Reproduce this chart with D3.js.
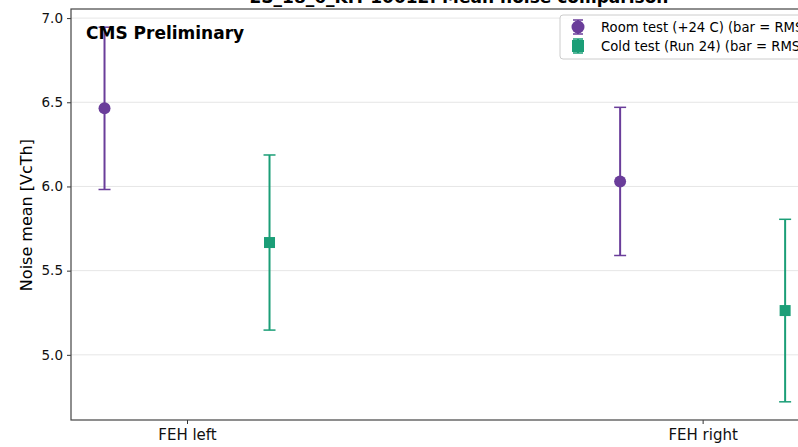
<!DOCTYPE html>
<html>
<head>
<meta charset="utf-8">
<script src="https://cdn.jsdelivr.net/npm/d3@7"></script>
<style>
  body { margin: 0; background: #fff; }
  text { font-family: "DejaVu Sans", sans-serif; }
</style>
</head>
<body>
<svg id="chart" width="798" height="447"></svg>
<script>
var categories = ["FEH left", "FEH right"];
var seriesNames = ["Room test (+24 C) (bar = RMS)", "Cold test (Run 24) (bar = RMS)"];
var roomMean = [6.464, 6.030];
var roomRms = [0.482, 0.440];
var coldMean = [5.667, 5.263];
var coldRms = [0.520, 0.542];
var yTicks = [5.0, 5.5, 6.0, 6.5, 7.0];

var purple = "#6a3d9a";
var green = "#1b9e77";

var svg = d3.select("#chart"),
  margin = {top: 9, left: 71, bottom: 27},
  width = 776,
  height = +svg.attr("height") - margin.top - margin.bottom,
  g = svg.append("g").attr("transform", "translate(" + margin.left + "," + margin.top + ")");

var x = d3.scaleLinear().domain([-0.225, 1.28]).range([0, width]);
var y = d3.scaleLinear().domain([4.613, 7.054]).range([height, 0]);
var offset = 0.16;

// grid
g.append("g")
  .selectAll("line")
  .data(yTicks)
  .enter().append("line")
  .attr("x1", 0).attr("x2", width)
  .attr("y1", function(d) { return y(d); })
  .attr("y2", function(d) { return y(d); })
  .style("stroke", "#e6e6e6")
  .style("stroke-width", 1);

// axes
var yAxis = g.append("g")
  .call(d3.axisLeft(y).tickValues(yTicks).tickFormat(d3.format(".1f")).tickSize(4).tickPadding(4));
var xAxis = g.append("g")
  .attr("transform", "translate(0," + height + ")")
  .call(d3.axisBottom(x).tickValues([0, 1]).tickFormat(function(d) { return categories[d]; }).tickSize(4).tickPadding(5));

[yAxis, xAxis].forEach(function(a) {
  a.select(".domain").remove();
  a.selectAll("line").style("stroke", "#333");
  a.selectAll("text").style("font-size", "13.5px").style("fill", "#111");
});
xAxis.selectAll("text").style("font-size", "15px");

// frame
g.append("rect")
  .attr("width", width).attr("height", height)
  .style("fill", "none")
  .style("stroke", "#444")
  .style("stroke-width", 1.2);

// y label
g.append("text")
  .attr("transform", "rotate(-90)")
  .attr("x", -y(5.83))
  .attr("y", -39)
  .attr("text-anchor", "middle")
  .style("font-size", "16px")
  .text("Noise mean [VcTh]");

// title (partly above the picture)
svg.append("text")
  .attr("x", 459)
  .attr("y", 3)
  .attr("text-anchor", "middle")
  .style("font-size", "17px")
  .style("font-weight", "bold")
  .text("2S_18_6_KIT-10012: Mean noise comparison");

function drawSeries(means, rms, dx, color, shape) {
  var s = g.append("g");
  means.forEach(function(m, i) {
    var cx = x(i + dx);
    s.append("line")
      .attr("x1", cx).attr("x2", cx)
      .attr("y1", y(m + rms[i])).attr("y2", y(m - rms[i]))
      .style("stroke", color).style("stroke-width", 2);
    [m + rms[i], m - rms[i]].forEach(function(v) {
      s.append("line")
        .attr("x1", cx - 6).attr("x2", cx + 6)
        .attr("y1", y(v)).attr("y2", y(v))
        .style("stroke", color).style("stroke-width", 1.5);
    });
    if (shape == "circle") {
      s.append("circle").attr("cx", cx).attr("cy", y(m)).attr("r", 6).style("fill", color);
    } else {
      s.append("rect").attr("x", cx - 5.5).attr("y", y(m) - 5.5)
        .attr("width", 11).attr("height", 11).style("fill", color);
    }
  });
}

drawSeries(roomMean, roomRms, -offset, purple, "circle");
drawSeries(coldMean, coldRms, offset, green, "square");

// CMS label
g.append("text")
  .attr("x", 15)
  .attr("y", 30)
  .style("font-size", "17px")
  .style("font-weight", "bold")
  .text("CMS Preliminary");

// legend
var key = svg.append("g").attr("transform", "translate(560,15)");
key.append("rect")
  .attr("width", 270).attr("height", 44).attr("rx", 3)
  .style("fill", "#fff").style("fill-opacity", 0.85)
  .style("stroke", "#ccc");

var entries = [
  {name: seriesNames[0], color: purple, shape: "circle"},
  {name: seriesNames[1], color: green, shape: "square"}
];
entries.forEach(function(e, i) {
  var ly = 12 + i * 19;
  var row = key.append("g").attr("transform", "translate(18," + ly + ")");
  row.append("line").attr("y1", -7).attr("y2", 7).style("stroke", e.color).style("stroke-width", 2);
  row.append("line").attr("x1", -5).attr("x2", 5).attr("y1", -7).attr("y2", -7).style("stroke", e.color).style("stroke-width", 1.5);
  row.append("line").attr("x1", -5).attr("x2", 5).attr("y1", 7).attr("y2", 7).style("stroke", e.color).style("stroke-width", 1.5);
  if (e.shape == "circle") {
    row.append("circle").attr("r", 6.5).style("fill", e.color);
  } else {
    row.append("rect").attr("x", -6).attr("y", -6).attr("width", 12).attr("height", 12).style("fill", e.color);
  }
  row.append("text")
    .attr("x", 23).attr("dy", "0.35em")
    .style("font-size", "13.2px")
    .text(e.name);
});
</script>
</body>
</html>
